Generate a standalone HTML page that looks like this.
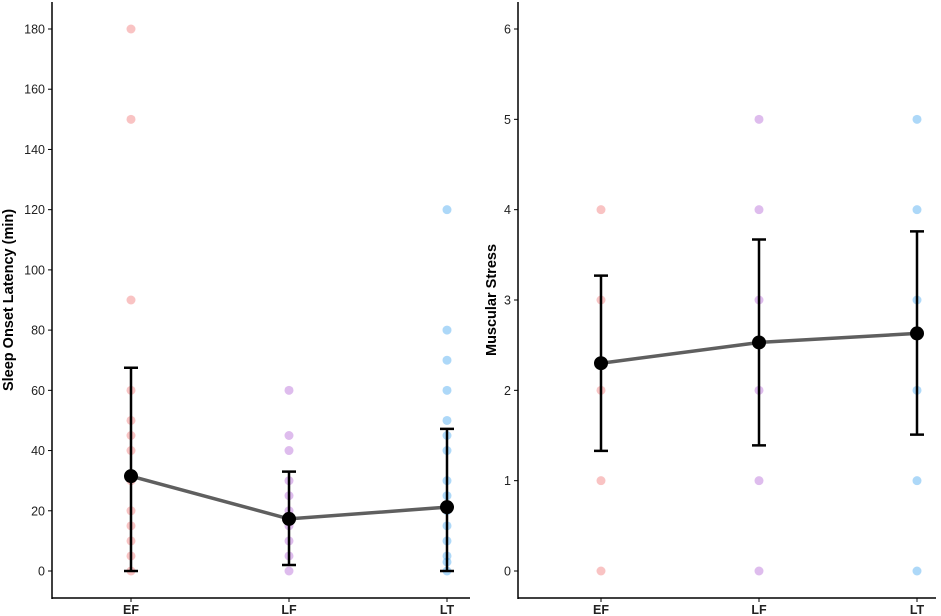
<!DOCTYPE html>
<html><head><meta charset="utf-8"><style>
body{margin:0;background:#fff}
svg{display:block;font-family:"Liberation Sans",sans-serif}
</style></head><body>
<svg id="c" width="941" height="616" viewBox="0 0 941 616"></svg>
<script>
const groups=["EF","LF","LT"];
const colors=["#f27a7a","#b56ad8","#4aa8f0"];
const latPoints=[[180,150,90,60,50,45,40,30,20,15,10,5,0],[60,45,40,30,25,20,15,10,5,0],[120,80,70,60,50,45,40,30,25,20,15,10,5,3,0]];
const latMean=[31.5,17.3,21.2];
const latLow=[0,2,0];
const latHigh=[67.5,33,47.2];
const latTicks=[0,20,40,60,80,100,120,140,160,180];
const musPoints=[[4,3,2,1,0],[5,4,3,2,1,0],[5,4,3,2,1,0]];
const musMean=[2.3,2.53,2.63];
const musLow=[1.33,1.39,1.51];
const musHigh=[3.27,3.67,3.76];
const musTicks=[0,1,2,3,4,5,6];
const svg=document.getElementById('c');
const NS="http://www.w3.org/2000/svg";
function mk(t,a,p){const e=document.createElementNS(NS,t);for(const k in a)e.setAttribute(k,a[k]);(p||svg).appendChild(e);return e;}
function panel(name,ax,xs,yMax,ticks,pts,mean,lo,hi,title,titleX){
  const g=mk('g',{});
  
  
  const y=v=>571-v/yMax*542;
  const x=i=>xs[i];
  mk('line',{x1:ax,y1:2,x2:ax,y2:599,stroke:'#000','stroke-width':1.5},g);
  mk('line',{x1:ax,y1:598,x2:ax+418,y2:598,stroke:'#000','stroke-width':1.5},g);
  ticks.forEach(t=>{
    const l=mk('line',{x1:ax-4,x2:ax,y1:y(t),y2:y(t),stroke:'#000'},g);
    
    const tx=mk('text',{x:ax-7,y:y(t)+4.5,'text-anchor':'end','font-size':12.5,fill:'#222'},g);
    
    tx.textContent=t;
  });
  groups.forEach((gr,i)=>{
    mk('line',{x1:x(i),x2:x(i),y1:598,y2:602,stroke:'#000'},g);
    const tx=mk('text',{x:x(i),y:614,'text-anchor':'middle','font-size':12.5,'font-weight':'bold',fill:'#222'},g);
    
    tx.textContent=gr;
    pts[i].forEach(v=>{
      const c=mk('circle',{cx:x(i),cy:y(v),r:4.5,fill:colors[i],'fill-opacity':0.45},g);
      
    });
  });
  const tt=mk('text',{x:0,y:0,transform:`translate(${titleX},300) rotate(-90)`,'text-anchor':'middle','font-size':14.5,'font-weight':'bold'},g);
  
  tt.textContent=title;
  const pl=mk('polyline',{points:mean.map((m,i)=>x(i)+','+y(m)).join(' '),fill:'none',stroke:'#5f5f5f','stroke-width':3.5},g);
  
  groups.forEach((gr,i)=>{
    const e=mk('path',{d:`M${x(i)},${y(lo[i])}V${y(hi[i])}M${x(i)-7},${y(lo[i])}H${x(i)+7}M${x(i)-7},${y(hi[i])}H${x(i)+7}`,stroke:'#000','stroke-width':2.5,fill:'none'},g);
    
    const m=mk('circle',{cx:x(i),cy:y(mean[i]),r:7,fill:'#000'},g);
    
  });
}
panel('latency-panel',52,[131,289,447],180,latTicks,latPoints,latMean,latLow,latHigh,'Sleep Onset Latency (min)',13);
panel('stress-panel',518,[601,759,917],6,musTicks,musPoints,musMean,musLow,musHigh,'Muscular Stress',496);
</script>
</body></html>
